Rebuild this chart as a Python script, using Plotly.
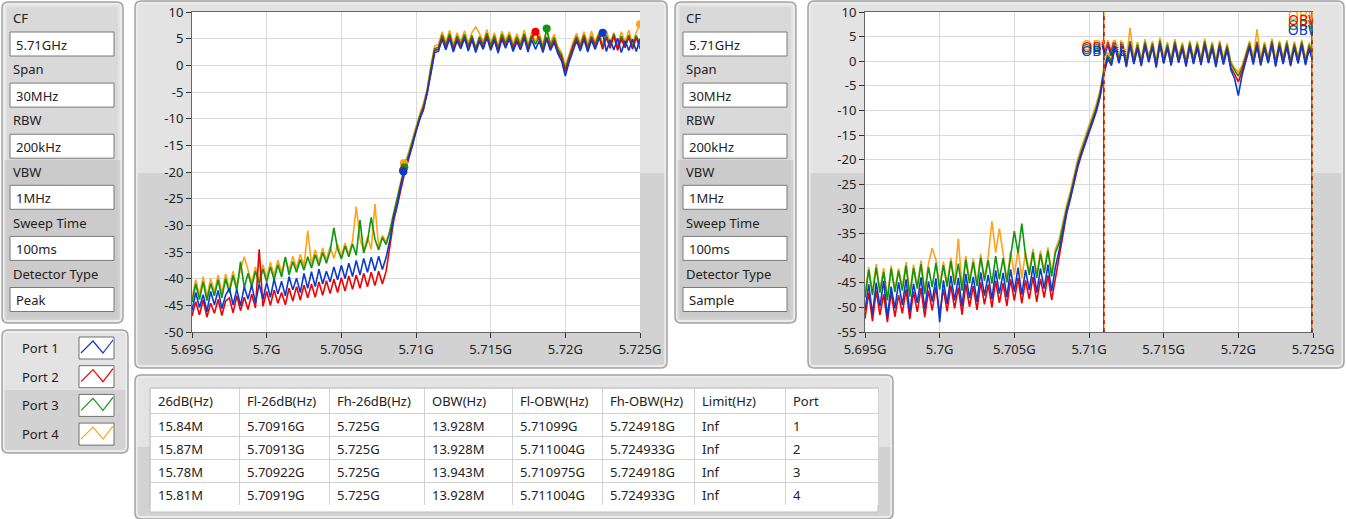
import plotly.graph_objects as go

W, H = 1346, 519
FONT = "Noto Sans"
TXT = "#222222"

# ---------------- data ----------------
f_start_ghz = 5.695
f_step_ghz = 0.00025
n_pts = 121
freq = [round(f_start_ghz + i * f_step_ghz, 6) for i in range(n_pts)]

tick_vals = [5.695, 5.700, 5.705, 5.710, 5.715, 5.720, 5.725]
tick_text = ["5.695G", "5.7G", "5.705G", "5.71G", "5.715G", "5.72G", "5.725G"]
y1_ticks = [10, 5, 0, -5, -10, -15, -20, -25, -30, -35, -40, -45, -50]
y2_ticks = [10, 5, 0, -5, -10, -15, -20, -25, -30, -35, -40, -45, -50, -55]

ports = ["Port 1", "Port 2", "Port 3", "Port 4"]
port_colors = ["#0a3ad0", "#f20000", "#0e960e", "#ffa21a"]

# Peak detector traces (dBm)
peak_port1 = [
    -46.0, -42.6, -45.4, -43.0, -46.2, -42.4, -44.9, -42.2, -45.6, -43.1,
    -41.8, -44.9, -42.0, -45.1, -41.5, -43.8, -41.2, -44.6, -41.0, -43.9,
    -40.7, -43.5, -40.1, -42.9, -40.5, -43.2, -39.6, -42.1, -39.9, -42.6,
    -39.0, -41.8, -38.7, -41.5, -38.2, -41.0, -38.6, -40.6, -37.8, -40.2,
    -37.5, -40.0, -37.1, -39.6, -36.6, -39.3, -36.2, -38.8, -36.0, -38.5, -35.8, -38.3,
    -36.0, -32.8, -28.5, -26.0, -22.2, -19.8, -17.6, -14.9, -12.6, -10.0, -8.4, -5.2, -1.5, 2.4,
    2.6, 4.9, 2.9, 5.0, 2.5, 4.6, 3.1, 5.1, 2.7, 4.8, 2.4, 4.5, 3.0, 5.2, 2.8, 4.7, 2.3,
    4.9, 3.2, 5.0, 2.6, 4.4, 2.9, 5.1, 2.5, 4.8, 3.0, 4.6, 2.4, 5.0, 2.8, 4.3, 2.2,
    0.8, -2.0, 0.6, 2.8,
    4.6, 2.7, 4.9, 2.5, 4.7, 3.0, 5.0, 6.1, 2.6, 4.8, 2.9, 5.1, 2.4, 4.6, 2.8, 4.9, 2.6, 5.0,
]
peak_port2 = [
    -47.0, -44.3, -46.8, -44.0, -47.2, -44.6, -46.5, -43.9, -46.9, -44.2,
    -43.6, -46.4, -43.2, -46.0, -43.5, -45.8, -42.9, -45.5, -34.5, -45.2,
    -42.4, -45.0, -42.1, -44.6, -42.6, -44.9, -41.8, -44.2, -41.5, -44.0,
    -41.2, -43.6, -41.0, -43.5, -40.6, -43.1, -40.4, -42.8, -40.1, -42.6,
    -39.8, -42.3, -39.5, -42.0, -39.3, -41.8, -39.0, -41.5, -38.8, -41.3, -38.6, -41.0,
    -38.6, -33.4, -29.2, -26.3, -22.9, -20.0, -17.6, -15.2, -12.3, -10.1, -8.0, -5.3, -0.9, 2.8,
    3.0, 5.2, 3.3, 5.4, 2.9, 5.0, 3.5, 5.3, 3.1, 5.1, 2.8, 4.9, 3.4, 5.5, 3.2, 5.0, 2.7,
    5.3, 3.6, 5.2, 3.0, 4.8, 3.3, 5.4, 2.9, 5.1, 6.3, 4.9, 2.8, 5.3, 3.2, 4.7, 2.6,
    1.4, -1.2, 1.2, 3.3,
    5.0, 3.1, 5.3, 2.9, 5.1, 3.4, 5.4, 3.0, 5.2, 3.2, 5.5, 2.8, 5.0, 3.3, 5.3, 3.0, 5.2, 3.1,
]
peak_port3 = [
    -44.4, -41.0, -43.9, -40.6, -44.1, -40.9, -43.2, -40.2, -43.6, -40.0,
    -42.6, -39.4, -42.2, -36.8, -41.7, -39.0, -41.5, -38.6, -40.9, -38.2,
    -40.6, -37.8, -40.2, -37.4, -39.7, -35.9, -39.3, -36.8, -38.8, -36.4,
    -38.4, -35.9, -38.0, -35.5, -37.6, -35.1, -37.1, -34.8, -30.5, -34.4,
    -36.3, -33.9, -35.9, -33.5, -35.6, -29.0, -35.2, -32.9, -28.5, -32.6, -34.6, -32.3,
    -33.6, -31.2, -27.9, -25.0, -21.8, -19.1, -16.9, -14.5, -11.9, -9.6, -7.7, -4.8, -0.5, 3.1,
    3.4, 5.7, 3.8, 5.9, 3.3, 5.5, 4.0, 5.8, 3.6, 5.6, 3.2, 5.4, 3.9, 6.0, 3.7, 5.5, 3.1,
    5.8, 4.1, 5.7, 3.5, 5.3, 3.8, 5.9, 3.4, 5.6, 3.9, 5.4, 3.3, 6.9, 3.7, 5.2, 3.0,
    1.9, -0.7, 1.7, 3.7,
    5.4, 3.6, 5.7, 3.4, 5.5, 3.9, 5.8, 3.5, 5.6, 3.7, 5.9, 3.3, 5.5, 3.8, 5.7, 3.5, 5.6, 3.9,
]
peak_port4 = [
    -43.6, -40.2, -43.1, -39.6, -43.4, -40.0, -42.5, -39.3, -42.8, -39.1,
    -41.9, -38.6, -41.4, -38.3, -35.9, -38.4, -40.8, -37.8, -40.3, -37.4,
    -39.9, -36.9, -39.4, -36.5, -38.9, -36.1, -38.5, -35.8, -38.1, -35.4,
    -37.7, -31.0, -37.3, -34.6, -36.9, -34.3, -36.5, -34.0, -36.2, -33.6,
    -35.8, -33.3, -35.4, -32.9, -26.5, -32.6, -34.8, -32.2, -34.5, -26.0, -34.2, -31.9,
    -33.2, -30.8, -27.6, -24.6, -21.4, -18.4, -16.3, -13.9, -11.3, -9.1, -7.1, -4.4, 0.1, 3.6,
    3.9, 6.3, 4.3, 6.6, 3.8, 6.1, 4.5, 6.5, 4.1, 6.2, 7.2, 6.0, 4.4, 6.7, 4.2, 6.1, 3.6,
    6.4, 4.6, 6.3, 4.0, 5.9, 4.3, 6.6, 3.9, 6.2, 4.4, 6.0, 3.8, 6.5, 4.2, 5.8, 3.5,
    2.4, -0.2, 2.2, 4.2,
    6.0, 4.1, 6.3, 3.9, 6.4, 4.3, 6.2, 4.0, 6.5, 4.2, 6.1, 3.8, 6.3, 4.4, 6.6, 4.0, 6.2, 7.7,
]

# Sample detector traces (dBm)
sample_port1 = [
    -50.6, -45.3, -51.4, -45.0, -49.8, -44.6, -51.9, -45.8, -50.2, -44.9,
    -49.5, -44.3, -51.0, -45.2, -49.1, -43.9, -50.4, -44.7, -48.8, -44.1,
    -53.0, -44.5, -49.3, -43.6, -48.6, -44.0, -49.8, -43.2, -48.1, -43.8,
    -48.9, -42.9, -47.6, -43.4, -48.3, -42.5, -47.2, -43.0, -47.9, -42.3,
    -46.8, -41.9, -47.4, -42.4, -46.5, -41.6, -47.0, -42.1, -46.2, -41.3, -46.7, -41.8,
    -38.5, -34.3, -30.6, -27.8, -24.2, -21.1, -18.7, -16.3, -14.2, -12.1, -9.8, -6.9, -2.2, 0.8,
    -0.9, 3.0, -0.4, 2.8, -1.2, 3.3, -0.6, 2.6, -1.0, 3.1, -0.2, 2.9, -1.3, 3.4, -0.5, 2.7, -0.9,
    3.2, -0.3, 2.5, -1.1, 3.0, -0.6, 2.8, -0.8, 3.3, -0.4, 2.6, -1.2, 2.9, -0.7, 2.4, -1.8,
    -3.5, -7.0, -2.8, 0.2,
    2.8, -0.7, 3.1, -0.9, 2.6, -0.4, 3.3, -1.1, 2.9, -0.6, 3.0, -1.0, 2.7, -0.5, 3.2, -0.8, 2.5, -0.3,
]
sample_port2 = [
    -52.3, -47.0, -52.8, -46.6, -51.5, -47.3, -53.0, -46.9, -51.9, -47.5,
    -51.2, -46.4, -52.4, -46.8, -50.9, -46.1, -52.0, -46.6, -50.6, -45.9,
    -51.3, -46.3, -50.8, -45.6, -50.2, -46.0, -51.5, -45.3, -49.9, -45.7,
    -50.5, -44.9, -49.4, -45.4, -50.0, -44.6, -49.1, -45.1, -49.7, -44.3,
    -48.6, -44.0, -49.2, -44.5, -48.3, -43.8, -48.9, -44.2, -48.0, -43.5, -48.5, -43.9,
    -40.0, -35.0, -31.0, -28.0, -24.6, -21.5, -19.0, -16.6, -14.5, -12.4, -10.1, -7.2, -2.6, 0.4,
    -0.6, 3.3, -0.2, 3.0, -0.9, 3.6, -0.4, 2.9, -0.7, 3.4, 0.0, 3.1, -1.0, 3.7, -0.3, 2.9, -0.6,
    3.5, -0.1, 2.8, -0.8, 3.2, -0.4, 3.0, -0.5, 3.6, -0.2, 2.9, -0.9, 3.2, -0.5, 2.6, -1.3,
    -2.6, -4.2, -2.0, 0.7,
    3.1, -0.4, 3.5, -0.6, 2.9, -0.2, 3.6, -0.8, 3.2, -0.3, 3.3, -0.7, 3.0, -0.2, 3.4, -0.5, 2.8, 0.0,
]
sample_port3 = [
    -48.0, -42.4, -47.5, -41.9, -47.0, -42.8, -48.6, -42.1, -46.9, -42.6,
    -46.6, -41.5, -47.8, -42.0, -46.2, -41.2, -47.3, -41.8, -45.9, -41.0,
    -46.4, -41.4, -45.8, -40.6, -45.5, -41.1, -46.6, -40.3, -45.1, -40.8,
    -45.7, -39.9, -44.6, -40.4, -45.2, -39.6, -44.3, -40.0, -44.9, -39.3,
    -34.5, -39.0, -33.0, -39.5, -43.4, -38.8, -44.0, -39.2, -43.1, -38.5, -43.7, -38.9,
    -37.0, -33.6, -30.0, -27.2, -23.7, -20.6, -18.2, -15.9, -13.8, -11.7, -9.4, -6.5, -1.9, 1.2,
    -0.1, 3.8, 0.3, 3.5, -0.4, 4.1, 0.1, 3.4, -0.2, 3.9, 0.5, 3.6, -0.5, 4.2, 0.2, 3.4, -0.1,
    4.0, 0.4, 3.3, -0.3, 3.7, 0.1, 3.5, 0.0, 4.1, 0.3, 3.4, -0.4, 3.7, 0.0, 3.1, -0.6,
    -1.8, -3.0, -1.4, 1.3,
    3.6, 0.1, 4.0, -0.1, 3.4, 0.3, 4.1, -0.3, 3.7, 0.2, 3.8, -0.2, 3.5, 0.3, 3.9, 0.0, 3.3, 0.5,
]
sample_port4 = [
    -47.4, -41.8, -46.9, -41.2, -46.4, -42.0, -48.0, -41.5, -46.3, -42.1,
    -45.9, -40.8, -47.2, -41.3, -45.6, -40.5, -46.7, -41.1, -38.0, -40.3,
    -45.8, -40.7, -45.2, -39.9, -44.9, -36.0, -46.0, -39.6, -44.5, -40.1,
    -45.1, -39.2, -44.0, -39.7, -32.5, -38.9, -34.0, -39.3, -44.3, -38.6,
    -43.4, -38.3, -44.1, -38.8, -42.8, -38.1, -43.4, -38.5, -42.5, -37.8, -43.1, -38.2,
    -36.2, -32.8, -29.2, -26.4, -22.9, -19.8, -17.4, -15.1, -13.0, -10.9, -8.6, -5.7, -1.2, 1.8,
    0.3, 4.4, 0.8, 4.0, 0.1, 6.8, 0.6, 3.9, 0.3, 4.5, 1.0, 4.1, 0.0, 4.8, 0.7, 3.9, 0.4,
    4.5, 0.9, 3.8, 0.2, 4.2, 0.6, 4.0, 0.5, 4.6, 0.8, 3.9, 0.1, 4.2, 0.5, 3.6, -0.1,
    -1.4, -2.2, -0.9, 1.8,
    4.1, 0.6, 6.5, 0.4, 3.9, 0.8, 4.6, 0.2, 4.2, 0.7, 4.3, 0.3, 4.0, 0.8, 4.4, 0.5, 3.8, 1.0,
]

# Peak markers on chart 1
peak_marker_ghz = [5.7225, 5.718, 5.71875, 5.725]
peak_marker_dbm = [6.1, 6.3, 6.9, 7.7]
down26_marker_dbm = [-19.9, -19.7, -19.1, -18.3]

# Results table
bw26_mhz = [15.84, 15.87, 15.78, 15.81]
fl26_ghz = [5.70916, 5.70913, 5.70922, 5.70919]
fh26_ghz = [5.725, 5.725, 5.725, 5.725]
obw_mhz = [13.928, 13.928, 13.943, 13.928]
fl_obw_ghz = [5.71099, 5.711004, 5.710975, 5.711004]
fh_obw_ghz = [5.724918, 5.724933, 5.724918, 5.724933]
limit_text = ["Inf", "Inf", "Inf", "Inf"]
port_ids = ["1", "2", "3", "4"]
table_headers = ["26dB(Hz)", "Fl-26dB(Hz)", "Fh-26dB(Hz)", "OBW(Hz)",
                 "Fl-OBW(Hz)", "Fh-OBW(Hz)", "Limit(Hz)", "Port"]

# OBW cursor label levels on chart 2
obw_l_label_dbm = [1.7, 2.5, 2.1, 2.9]
obw_h_label_dbm = [6.1, 8.0, 7.0, 9.0]

# Settings panels
setting_names = ["CF", "Span", "RBW", "VBW", "Sweep Time", "Detector Type"]
settings_peak = ["5.71GHz", "30MHz", "200kHz", "1MHz", "100ms", "Peak"]
settings_sample = ["5.71GHz", "30MHz", "200kHz", "1MHz", "100ms", "Sample"]

for s in (peak_port1, peak_port2, peak_port3, peak_port4,
          sample_port1, sample_port2, sample_port3, sample_port4):
    if len(s) != n_pts:
        print("length mismatch", len(s))

# ---------------- helpers ----------------
def px(x):
    return x / W


def py(y):
    return 1 - y / H


def rr_path(x0, y0, x1, y1, r):
    pts = [
        ("M", [(x0 + r, y0)]), ("L", [(x1 - r, y0)]), ("Q", [(x1, y0), (x1, y0 + r)]),
        ("L", [(x1, y1 - r)]), ("Q", [(x1, y1), (x1 - r, y1)]), ("L", [(x0 + r, y1)]),
        ("Q", [(x0, y1), (x0, y1 - r)]), ("L", [(x0, y0 + r)]), ("Q", [(x0, y0), (x0 + r, y0)]),
    ]
    s = ""
    for cmd, cs in pts:
        s += cmd + " " + " ".join(f"{px(a):.5f},{py(b):.5f}" for a, b in cs) + " "
    return s + "Z"


shapes = []
annotations = []


def panel(x0, y0, x1, y1, split, top="#e3e3e3", bottom="#d2d2d2"):
    shapes.append(dict(type="path", path=rr_path(x0, y0, x1, y1, 6), xref="paper", yref="paper",
                       fillcolor=top, line=dict(color="#a4a4a4", width=1.5), layer="below"))
    shapes.append(dict(type="rect", xref="paper", yref="paper", x0=px(x0 + 2), x1=px(x1 - 2),
                       y0=py(split), y1=py(y1 - 3), fillcolor=bottom, line=dict(width=0),
                       layer="below"))
    shapes.append(dict(type="path", path=rr_path(x0 + 2, y0 + 2, x1 - 2, y1 - 2, 5), xref="paper",
                       yref="paper", fillcolor="rgba(0,0,0,0)",
                       line=dict(color="#f4f4f4", width=1), layer="below"))


def rect(x0, y0, x1, y1, fill, line="#7c7c7c", lw=1, layer="below"):
    shapes.append(dict(type="rect", xref="paper", yref="paper", x0=px(x0), x1=px(x1),
                       y0=py(y1), y1=py(y0), fillcolor=fill, line=dict(color=line, width=lw),
                       layer=layer))


def text(x, y, s, anchor="left", size=13, color=TXT):
    annotations.append(dict(x=px(x), y=py(y), xref="paper", yref="paper", text=s,
                            showarrow=False, xanchor=anchor, yanchor="middle",
                            font=dict(family=FONT, size=size, color=color)))


def settings_panel(x_off, values):
    panel(x_off + 2, 2, x_off + 123, 323, 160)
    rect(x_off + 7, 7, x_off + 118, 160, "#d9d9d9", line="#d9d9d9", lw=0)
    rect(x_off + 7, 160, x_off + 118, 318, "#cbcbcb", line="#cbcbcb", lw=0)
    for i, (name, val) in enumerate(zip(setting_names, values)):
        ly = 18 + i * 51.2
        by = 32 + i * 51.1
        text(x_off + 11, ly, name)
        rect(x_off + 10, by, x_off + 114, by + 24, "white", line="#7a7a7a")
        text(x_off + 14, by + 12.5, val)


# ---------------- panels ----------------
settings_panel(0, settings_peak)
settings_panel(673, settings_sample)

# legend panel
panel(2, 330, 128, 453, 390)
for i, (name, col) in enumerate(zip(ports, port_colors)):
    cy = 348 + i * 28.7
    text(40, cy, name, anchor="center")
    bx0, by0 = 79, cy - 11
    rect(bx0, by0, bx0 + 35, by0 + 22, "white", line="#6f6f6f")
    zz = [(2, 16), (14, 4), (24, 16), (34, 3)]
    path = "M " + " L ".join(f"{px(bx0 + a):.5f},{py(by0 + b):.5f}" for a, b in zz)
    shapes.append(dict(type="path", path=path, xref="paper", yref="paper",
                       line=dict(color=col, width=1.2), layer="above"))

# chart panels
panel(135, 1, 667, 368, 173)
panel(808, 1, 1344, 368, 173)
rect(192, 12, 640, 332, "white", line="white", lw=0)
rect(865, 12, 1313, 332, "white", line="white", lw=0)

# table panel
panel(135, 375, 893, 519, 447)
rect(150, 388, 878, 512, "white", line="#bdbdbd")

# ---------------- figure ----------------
fig = go.Figure()

order = [3, 2, 1, 0]
peak_series = [peak_port1, peak_port2, peak_port3, peak_port4]
sample_series = [sample_port1, sample_port2, sample_port3, sample_port4]

for i in order:
    fig.add_trace(go.Scatter(x=freq, y=peak_series[i], mode="lines", xaxis="x", yaxis="y",
                             line=dict(color=port_colors[i], width=1.6), showlegend=False,
                             name=ports[i]))
for i in order:
    fig.add_trace(go.Scatter(x=[peak_marker_ghz[i], fl26_ghz[i]],
                             y=[peak_marker_dbm[i], down26_marker_dbm[i]],
                             mode="markers", xaxis="x", yaxis="y",
                             marker=dict(color=port_colors[i], size=8), showlegend=False))

for i in order:
    fig.add_trace(go.Scatter(x=freq, y=sample_series[i], mode="lines", xaxis="x2", yaxis="y2",
                             line=dict(color=port_colors[i], width=1.6), showlegend=False,
                             name=ports[i]))

# OBW cursors: different dash patterns so the overlapping colours alternate
cursor_dash = ["2px,6px", "4px,4px", "solid", "solid"]
cursor_width = [1.3, 1.3, 1.0, 1.3]
for i in [3, 2, 1, 0]:
    for fv in (fl_obw_ghz[i], fh_obw_ghz[i]):
        fig.add_trace(go.Scatter(x=[fv, fv], y=[-55, 10], mode="lines", xaxis="x2", yaxis="y2",
                                 line=dict(color=port_colors[i], width=cursor_width[i],
                                           dash=cursor_dash[i]),
                                 showlegend=False))
for i in [3, 2, 1, 0]:
    fig.add_trace(go.Scatter(x=[fl_obw_ghz[i], fh_obw_ghz[i]],
                             y=[obw_l_label_dbm[i], obw_h_label_dbm[i]],
                             text=["OBW-L", "OBW-H"], mode="text", xaxis="x2", yaxis="y2",
                             textposition="middle center",
                             textfont=dict(family=FONT, size=14, color=port_colors[i]),
                             showlegend=False))

# results table
fig.add_trace(go.Table(
    domain=dict(x=[px(150), px(878)], y=[py(506), py(388)]),
    columnwidth=[89, 90, 95, 88, 90, 92, 91, 93],
    header=dict(values=table_headers, fill_color="white", line_color="#d2d2d2", align="left",
                font=dict(family=FONT, size=13, color=TXT), height=25),
    cells=dict(values=[[f"{v}M" for v in bw26_mhz], [f"{v}G" for v in fl26_ghz],
                       [f"{v}G" for v in fh26_ghz], [f"{v}M" for v in obw_mhz],
                       [f"{v}G" for v in fl_obw_ghz], [f"{v}G" for v in fh_obw_ghz],
                       limit_text, port_ids],
               fill_color="white", line_color="#d2d2d2", align="left",
               font=dict(family=FONT, size=13, color=TXT), height=23),
))

axis_common = dict(ticks="outside", ticklen=5, tickwidth=1, tickcolor="#333333",
                   showgrid=True, gridcolor="#dadada", gridwidth=1, zeroline=False,
                   showline=True, linecolor="#666666", linewidth=1, automargin=False,
                   tickfont=dict(family=FONT, size=13, color=TXT), fixedrange=True)

fig.update_layout(
    template="none",
    width=W, height=H, margin=dict(l=0, r=0, t=0, b=0, pad=0, autoexpand=False),
    paper_bgcolor="white", plot_bgcolor="white", showlegend=False,
    font=dict(family=FONT, size=13, color=TXT),
    xaxis=dict(domain=[px(192), px(640)], range=[5.695, 5.725], tickvals=tick_vals,
               ticktext=tick_text, anchor="y", mirror=True, **axis_common),
    yaxis=dict(domain=[py(332), py(12)], range=[-50, 10], tickvals=y1_ticks,
               ticktext=[str(v) for v in y1_ticks], anchor="x", **axis_common),
    xaxis2=dict(domain=[px(865), px(1313)], range=[5.695, 5.725], tickvals=tick_vals,
                ticktext=tick_text, anchor="y2", mirror=True, **axis_common),
    yaxis2=dict(domain=[py(332), py(12)], range=[-55, 10], tickvals=y2_ticks,
                ticktext=[str(v) for v in y2_ticks], anchor="x2", **axis_common),
    shapes=shapes, annotations=annotations,
)

fig.write_html(
    "out.html",
    config={"displayModeBar": False},
    post_script="document.body.style.margin='0';document.body.style.overflow='hidden';",
)
